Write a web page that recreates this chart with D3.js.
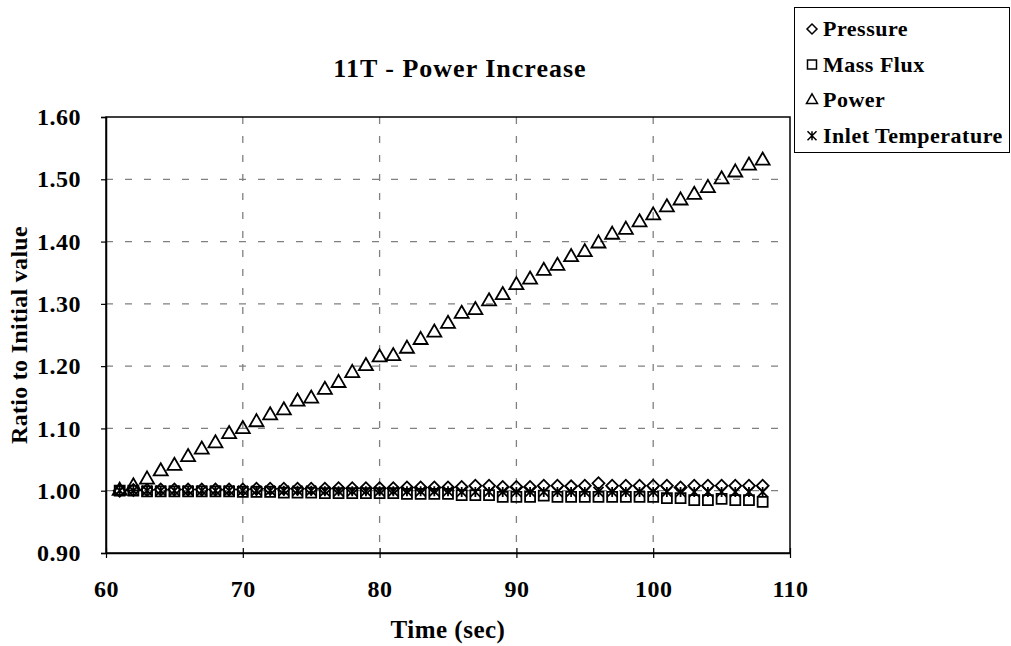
<!DOCTYPE html>
<html>
<head>
<meta charset="utf-8">
<script src="https://cdn.jsdelivr.net/npm/d3@7"></script>
<style>
  body { margin: 0; background: #fff; }
  svg { display: block; font-family: "Liberation Serif", "Times New Roman", serif; font-weight: bold; }
</style>
</head>
<body>
<div id="chart"></div>
<script>
const width = 1011;
const height = 646;

const margin = ({top: 117, right: 221, bottom: 93, left: 106});

// seconds
const time = [61, 62, 63, 64, 65, 66, 67, 68, 69, 70,
  71, 72, 73, 74, 75, 76, 77, 78, 79, 80,
  81, 82, 83, 84, 85, 86, 87, 88, 89, 90,
  91, 92, 93, 94, 95, 96, 97, 98, 99, 100,
  101, 102, 103, 104, 105, 106, 107, 108];

const pressure = [1.000, 1.001, 1.001, 1.002, 1.002, 1.002, 1.002, 1.002, 1.002, 1.002,
  1.003, 1.003, 1.003, 1.003, 1.003, 1.003, 1.004, 1.004, 1.004, 1.004,
  1.004, 1.005, 1.005, 1.005, 1.005, 1.006, 1.008, 1.008, 1.006, 1.006,
  1.006, 1.008, 1.008, 1.007, 1.008, 1.012, 1.008, 1.008, 1.008, 1.008,
  1.008, 1.005, 1.008, 1.008, 1.008, 1.008, 1.008, 1.008];

const massFlux = [1.000, 1.000, 0.999, 0.999, 0.999, 0.999, 0.999, 0.999, 0.999, 0.998,
  0.998, 0.998, 0.997, 0.997, 0.997, 0.996, 0.996, 0.996, 0.996, 0.996,
  0.996, 0.995, 0.995, 0.995, 0.995, 0.993, 0.993, 0.993, 0.990, 0.990,
  0.990, 0.992, 0.990, 0.990, 0.990, 0.990, 0.990, 0.990, 0.990, 0.990,
  0.988, 0.988, 0.985, 0.985, 0.987, 0.985, 0.985, 0.982];

const power = [1.000, 1.007, 1.018, 1.031, 1.040, 1.054, 1.066, 1.076, 1.091, 1.099,
  1.110, 1.121, 1.129, 1.143, 1.148, 1.162, 1.173, 1.189, 1.200, 1.214,
  1.216, 1.228, 1.242, 1.254, 1.268, 1.284, 1.290, 1.304, 1.314, 1.330,
  1.339, 1.353, 1.361, 1.375, 1.383, 1.397, 1.411, 1.419, 1.431, 1.442,
  1.455, 1.466, 1.475, 1.486, 1.500, 1.511, 1.522, 1.530];

const inletTemp = [1.000, 1.000, 1.000, 1.000, 1.000, 1.000, 1.000, 1.000, 1.000, 1.000,
  1.000, 1.000, 1.000, 1.000, 1.000, 0.999, 0.999, 0.999, 0.999, 0.999,
  0.999, 0.999, 0.999, 0.999, 0.999, 0.998, 0.998, 0.998, 0.998, 0.998,
  0.998, 0.998, 0.998, 0.998, 0.998, 0.998, 0.998, 0.998, 0.998, 0.998,
  0.998, 0.998, 0.998, 0.998, 0.998, 0.998, 0.998, 0.998];

const seriesNames = ["Pressure", "Mass Flux", "Power", "Inlet Temperature"];
const xTicks = [60, 70, 80, 90, 100, 110];
const yTicks = [0.90, 1.00, 1.10, 1.20, 1.30, 1.40, 1.50, 1.60];

// marker path generators, size = approx width in px
const asterisk = {
  draw(ctx, size) {
    const r = Math.sqrt(size) / 2;
    ctx.moveTo(0, -r); ctx.lineTo(0, r);
    ctx.moveTo(-r, -r); ctx.lineTo(r, r);
    ctx.moveTo(r, -r); ctx.lineTo(-r, r);
  }
};
const marker = {
  "Pressure": w => d3.symbol(d3.symbolSquare, (w / Math.SQRT2) ** 2)(),
  "Mass Flux": w => d3.symbol(d3.symbolSquare, w * w)(),
  "Power": w => d3.symbol(d3.symbolTriangle, w * w * Math.sqrt(3) / 4)(),
  "Inlet Temperature": w => d3.symbol(asterisk, w * w)()
};
const rotation = name => name === "Pressure" ? 45 : 0;

const series = [pressure, massFlux, power, inletTemp].map((vals, i) => ({
  name: seriesNames[i],
  values: vals.map((v, j) => ({t: time[j], v}))
}));

const x = d3.scaleLinear()
  .domain([60, 110])
  .range([margin.left, width - margin.right]);

const y = d3.scaleLinear()
  .domain([0.9, 1.6])
  .range([height - margin.bottom, margin.top]);

const svg = d3.select("#chart")
  .append("svg")
  .attr("width", width)
  .attr("height", height)
  .attr("viewBox", [0, 0, width, height]);

// gridlines
svg.append("g")
  .selectAll("line")
  .data(yTicks.slice(1, -1))
  .join("line")
  .attr("x1", x(60)).attr("x2", x(110))
  .attr("y1", d => y(d)).attr("y2", d => y(d))
  .attr("stroke", "#808080")
  .attr("stroke-width", 1.3)
  .attr("stroke-dasharray", "7,12");

svg.append("g")
  .selectAll("line")
  .data(xTicks.slice(1, -1))
  .join("line")
  .attr("x1", d => x(d)).attr("x2", d => x(d))
  .attr("y1", y(1.6)).attr("y2", y(0.9))
  .attr("stroke", "#808080")
  .attr("stroke-width", 1.3)
  .attr("stroke-dasharray", "7,12");

// plot frame
svg.append("rect")
  .attr("x", x(60)).attr("y", y(1.6))
  .attr("width", x(110) - x(60)).attr("height", y(0.9) - y(1.6))
  .attr("fill", "none")
  .attr("stroke", "#000")
  .attr("stroke-width", 1.5);

// axes
const xAxis = g => g
  .attr("transform", `translate(0,${y(0.9)})`)
  .call(d3.axisBottom(x).tickValues(xTicks).tickSizeInner(5).tickSizeOuter(0).tickPadding(22))
  .call(g => g.select(".domain").attr("stroke-width", 1.5))
  .call(g => g.selectAll(".tick line").attr("y1", -5).attr("stroke-width", 1.2))
  .call(g => g.selectAll("text")
    .attr("font-family", "Liberation Serif")
    .attr("font-weight", "bold")
    .attr("font-size", 24)
    .attr("letter-spacing", 0.5)
    .attr("fill", "#000"));

const yAxis = g => g
  .attr("transform", `translate(${x(60)},0)`)
  .call(d3.axisLeft(y).tickValues(yTicks).tickFormat(d3.format(".2f")).tickSize(5).tickPadding(20))
  .call(g => g.select(".domain").attr("stroke-width", 1.5))
  .call(g => g.selectAll(".tick line").attr("stroke-width", 1.2))
  .call(g => g.selectAll("text")
    .attr("font-family", "Liberation Serif")
    .attr("font-weight", "bold")
    .attr("font-size", 24)
    .attr("letter-spacing", 0.5)
    .attr("fill", "#000"));

svg.append("g").call(xAxis);
svg.append("g").call(yAxis);

// markers
const markerSize = {"Pressure": 12, "Mass Flux": 10, "Power": 14, "Inlet Temperature": 10};

series.forEach(s => {
  svg.append("g")
    .selectAll("path")
    .data(s.values)
    .join("path")
    .attr("transform", d => `translate(${x(d.t)},${y(d.v)}) rotate(${rotation(s.name)})`)
    .attr("d", marker[s.name](markerSize[s.name]))
    .attr("fill", "none")
    .attr("stroke", "#000")
    .attr("stroke-width", 1.8);
});

// title
svg.append("text")
  .attr("x", 460)
  .attr("y", 77)
  .attr("text-anchor", "middle")
  .attr("font-size", 26)
  .attr("letter-spacing", 1)
  .text("11T - Power Increase");

svg.append("text")
  .attr("x", (x(60) + x(110)) / 2)
  .attr("y", 638)
  .attr("text-anchor", "middle")
  .attr("font-size", 25)
  .attr("letter-spacing", 0.5)
  .text("Time (sec)");

svg.append("text")
  .attr("transform", `translate(27,${(y(0.9) + y(1.6)) / 2}) rotate(-90)`)
  .attr("text-anchor", "middle")
  .attr("font-size", 24)
  .attr("letter-spacing", 0.3)
  .text("Ratio to Initial value");

// legend
const legend = svg.append("g");
legend.append("rect")
  .attr("x", 794.5).attr("y", 7.5)
  .attr("width", 215).attr("height", 145)
  .attr("fill", "#fff")
  .attr("stroke", "#000")
  .attr("stroke-width", 1);

const legendSize = {"Pressure": 10, "Mass Flux": 9, "Power": 11, "Inlet Temperature": 9};
const items = legend.selectAll("g")
  .data(seriesNames)
  .join("g")
  .attr("transform", (d, i) => `translate(0,${36 + i * 35.6})`);

items.append("path")
  .attr("transform", d => `translate(812,-7) rotate(${rotation(d)})`)
  .attr("d", d => marker[d](legendSize[d]))
  .attr("fill", "none")
  .attr("stroke", "#000")
  .attr("stroke-width", 1.5);

items.append("text")
  .attr("x", 823)
  .attr("font-size", 22)
  .attr("letter-spacing", 0.5)
  .text(d => d);
</script>
</body>
</html>
